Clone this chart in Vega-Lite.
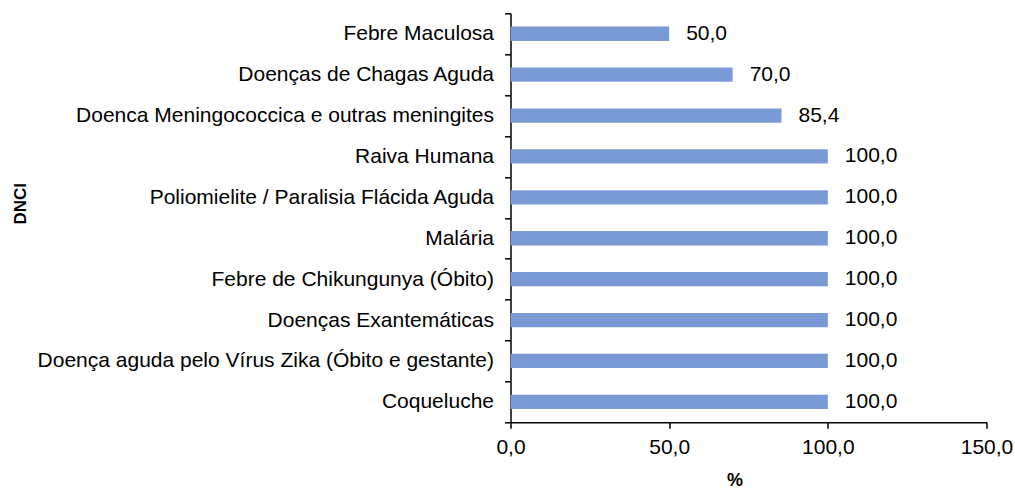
{
  "$schema": "https://vega.github.io/schema/vega-lite/v6.json",
  "width": 476,
  "height": 409,
  "autosize": {"type": "none"},
  "padding": {"left": 510.5, "top": 13.3, "right": 28.5, "bottom": 67.7},
  "background": "white",
  "config": {
    "locale": {"number": {"decimal": ",", "thousands": ".", "grouping": [3], "currency": ["R$", ""]}},
    "view": {"stroke": null},
    "font": "Liberation Sans"
  },
  "data": {
    "values": [
      {"doenca": "Febre Maculosa", "pct": 50.0},
      {"doenca": "Doenças de Chagas Aguda", "pct": 70.0},
      {"doenca": "Doenca Meningococcica e outras meningites", "pct": 85.4},
      {"doenca": "Raiva Humana", "pct": 100.0},
      {"doenca": "Poliomielite / Paralisia Flácida Aguda", "pct": 100.0},
      {"doenca": "Malária", "pct": 100.0},
      {"doenca": "Febre de Chikungunya (Óbito)", "pct": 100.0},
      {"doenca": "Doenças Exantemáticas", "pct": 100.0},
      {"doenca": "Doença aguda pelo Vírus Zika (Óbito e gestante)", "pct": 100.0},
      {"doenca": "Coqueluche", "pct": 100.0}
    ]
  },
  "encoding": {
    "y": {
      "field": "doenca",
      "type": "nominal",
      "sort": null,
      "scale": {"paddingInner": 0, "paddingOuter": 0},
      "axis": {
        "title": "DNCI",
        "titleFont": "Liberation Sans",
        "titleFontWeight": "bold",
        "titleFontSize": 17,
        "titleColor": "#000000",
        "titleAngle": -90,
        "titleX": -490.5,
        "titleY": 190,
        "titleAlign": "center",
        "titleBaseline": "middle",
        "labelFont": "Liberation Sans",
        "labelFontSize": 21,
        "labelColor": "#000000",
        "labelPadding": 11,
        "labelLimit": 600,
        "tickSize": 6,
        "tickColor": "#000000",
        "tickWidth": 1.5,
        "tickBand": "extent",
        "domainColor": "#000000",
        "domainWidth": 1.5,
        "grid": false
      }
    },
    "x": {
      "field": "pct",
      "type": "quantitative",
      "scale": {"domain": [0, 150], "nice": false},
      "axis": {
        "title": "%",
        "titleFont": "Liberation Sans",
        "titleFontWeight": "bold",
        "titleFontSize": 18,
        "titleColor": "#000000",
        "titleX": 224,
        "titleY": 58,
        "titleAlign": "center",
        "titleBaseline": "middle",
        "values": [0, 50, 100, 150],
        "format": ".1f",
        "labelFont": "Liberation Sans",
        "labelFontSize": 21,
        "labelColor": "#000000",
        "labelPadding": 8,
        "labelFlush": false,
        "labelOverlap": false,
        "tickSize": 6,
        "tickColor": "#000000",
        "tickWidth": 1.5,
        "domainColor": "#000000",
        "domainWidth": 1.5,
        "grid": false
      }
    }
  },
  "layer": [
    {"mark": {"type": "bar", "color": "#7a9ad5", "height": {"band": 0.35}}},
    {
      "mark": {"type": "text", "align": "left", "baseline": "middle", "dx": 17, "fontSize": 21, "font": "Liberation Sans", "color": "#000000"},
      "encoding": {"text": {"field": "pct", "type": "quantitative", "format": ".1f"}}
    }
  ]
}
